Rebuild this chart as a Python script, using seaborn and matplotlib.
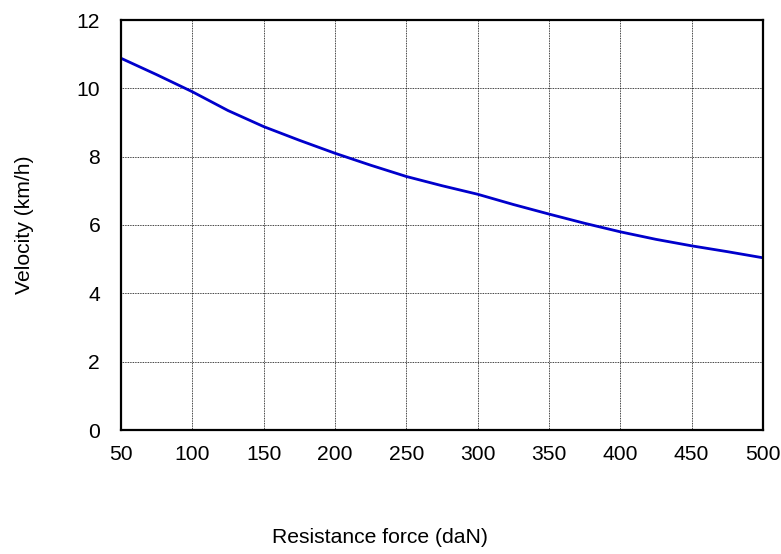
import pandas as pd
import matplotlib
matplotlib.use('Agg')
import matplotlib.pyplot as plt
import seaborn as sns

# values
force = [50, 75, 100, 125, 150, 175, 200, 225, 250, 275, 300, 325, 350, 375, 400, 425, 450, 475, 500]
velocity = [10.88, 10.40, 9.90, 9.35, 8.88, 8.48, 8.10, 7.75, 7.42, 7.15, 6.90, 6.60, 6.32, 6.05, 5.80, 5.58, 5.39, 5.22, 5.04]
x_ticks = [50, 100, 150, 200, 250, 300, 350, 400, 450, 500]
y_ticks = [0, 2, 4, 6, 8, 10, 12]

df = pd.DataFrame({'force': force, 'velocity': velocity})

sns.set_style('white')
plt.rcParams['font.family'] = ['Liberation Sans', 'DejaVu Sans']
plt.rcParams['text.color'] = 'black'
plt.rcParams['axes.labelcolor'] = 'black'

fig = plt.figure(figsize=(7.81, 5.54), dpi=100)
ax = fig.add_axes([121 / 781, 1 - 430 / 554, 642 / 781, 410 / 554])

sns.lineplot(data=df, x='force', y='velocity', color='#0000CC', linewidth=2.0, ax=ax)

ax.set_xlim(50, 500)
ax.set_ylim(0, 12)
ax.set_xticks(x_ticks)
ax.set_yticks(y_ticks)
ax.grid(True, color='black', linestyle=(0, (1, 1)), linewidth=0.6)
ax.tick_params(axis='both', length=0, labelsize=15.2, colors='black')
ax.tick_params(axis='x', pad=11)
ax.tick_params(axis='y', pad=15)
for s in ax.spines.values():
    s.set_color('black')
    s.set_linewidth(1.6)

ax.set_xlabel('Resistance force (daN)', fontsize=15.2, color='black')
ax.set_ylabel('Velocity (km/h)', fontsize=15.2, color='black')
ax.xaxis.set_label_coords((380 - 121) / 642, (430 - 528) / 410)
ax.yaxis.set_label_coords((34 - 121) / 642, 0.5)

fig.savefig('out.png', dpi=100)
